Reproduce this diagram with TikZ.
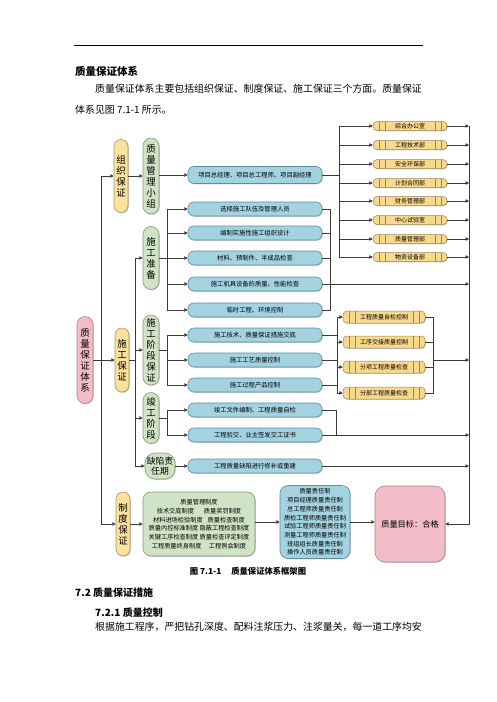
\documentclass[tikz,border=0pt]{standalone}
\usepackage{fontspec}
\setmainfont{Noto Sans CJK SC}
\usepackage{tikz}
\usetikzlibrary{arrows.meta,positioning,shadows}
\definecolor{Line}{HTML}{3A3A3A}
\definecolor{PinkFill}{HTML}{F3BCC9}
\definecolor{PinkEdge}{HTML}{A8848E}
\definecolor{YellowFill}{HTML}{FAE19E}
\definecolor{YellowEdge}{HTML}{A9955E}
\definecolor{GreenFill}{HTML}{D0E4C5}
\definecolor{GreenEdge}{HTML}{85977C}
\definecolor{BlueFill}{HTML}{A3D3E1}
\definecolor{BlueEdge}{HTML}{5F8C9B}
\definecolor{OrangeFill}{HTML}{F8D98C}
\definecolor{OrangeEdge}{HTML}{9C8452}
\tikzset{
  boxshadow/.style={
    drop shadow={shadow xshift=0.8pt,shadow yshift=-0.8pt,fill=black!45,opacity=0.45}
  },
  vlabel/.style={
    line width=0.6pt,
    rounded corners=7pt,
    inner sep=0pt,
    minimum width=14pt,
    align=center,
    font=\fontsize{9.5}{11}\selectfont,
    boxshadow
  },
  pinklabel/.style={vlabel, fill=PinkFill, draw=PinkEdge, minimum width=16pt, rounded corners=8pt},
  orglabel/.style={vlabel, fill=YellowFill, draw=YellowEdge},
  phaselabel/.style={vlabel, fill=GreenFill, draw=GreenEdge, minimum width=16pt, rounded corners=8pt},
  taskbox/.style={
    fill=BlueFill,
    draw=BlueEdge,
    line width=0.6pt,
    rounded corners=6pt,
    minimum width=134pt,
    minimum height=14pt,
    inner sep=0pt,
    font=\fontsize{6.3}{7}\selectfont,
    boxshadow
  },
  cellbox/.style={
    fill=OrangeFill,
    draw=OrangeEdge,
    line width=0.5pt,
    rounded corners=4pt,
    inner sep=0pt,
    font=\fontsize{6}{7}\selectfont,
    boxshadow,
    path picture={
      \foreach \d in {6pt,12pt}{
        \draw[OrangeEdge, line width=0.35pt]
          ([xshift=\d]path picture bounding box.north west) -- ([xshift=\d]path picture bounding box.south west);
        \draw[OrangeEdge, line width=0.35pt]
          ([xshift=-\d]path picture bounding box.north east) -- ([xshift=-\d]path picture bounding box.south east);
      }
    }
  },
  deptbox/.style={cellbox, minimum width=74pt, minimum height=9pt},
  checkbox/.style={cellbox, minimum width=82pt, minimum height=12pt},
  bigbox/.style={
    line width=0.6pt,
    rounded corners=8pt,
    inner sep=0pt,
    align=center,
    boxshadow
  },
  link/.style={line width=0.7pt, draw=Line},
  flowarrow/.style={
    -{Triangle[length=3.4pt,width=3.4pt]},
    line width=0.7pt,
    draw=Line
  },
  bodytext/.style={anchor=west, inner sep=0pt, font=\fontsize{9.9}{12}\selectfont}
}
\begin{document}
\begin{tikzpicture}[x=1pt,y=-1pt]
\useasboundingbox (0,0) rectangle (496,702);
% page text above
\draw[line width=0.8pt] (74,45) -- (423,45);
\node[bodytext, font=\fontsize{10.5}{12}\selectfont\bfseries] (title) at (75,71) {质量保证体系};
\node[bodytext] (para1) at (95,89) {质量保证体系主要包括组织保证、制度保证、施工保证三个方面。质量保证};
\node[bodytext] (para2) at (75,110) {体系见图 7.1-1 所示。};

% left column
\node[pinklabel, minimum height=87pt] (system) at (85,360) {质\\量\\保\\证\\体\\系};
\node[orglabel, minimum height=73pt] (org) at (121,176) {组\\织\\保\\证};
\node[orglabel, minimum height=64pt] (cons) at (122,360) {施\\工\\保\\证};
\node[orglabel, minimum height=64pt] (rule) at (123,524) {制\\度\\保\\证};

% phases
\node[phaselabel, minimum height=76pt] (team) at (151,176) {质\\量\\管\\理\\小\\组};
\node[phaselabel, minimum height=63pt] (prep) at (151,258) {施\\工\\准\\备};
\node[phaselabel, minimum height=70pt] (stage) at (151,350) {施\\工\\阶\\段\\保\\证};
\node[phaselabel, minimum height=51pt] (finish) at (151,418) {竣\\工\\阶\\段};
\node[phaselabel, minimum width=30pt, minimum height=26pt, rounded corners=10pt,
      font=\fontsize{8.8}{10.5}\selectfont] (defect) at (160,466) {缺陷责\\任期};

% task boxes
\node[taskbox, minimum height=17pt] (lead) at (255,175) {项目总经理、项目总工程师、项目副经理};
\node[taskbox] (prep1) at (255,209) {选择施工队伍及管理人员};
\node[taskbox] (prep2) at (255,233) {编制实施性施工组织设计};
\node[taskbox] (prep3) at (255,258) {材料、预制件、半成品检查};
\node[taskbox] (prep4) at (255,284) {施工机具设备的质量、性能检查};
\node[taskbox] (prep5) at (255,310) {临时工程、环境控制};
\node[taskbox] (stage1) at (255,335) {施工技术、质量保证措施交底};
\node[taskbox] (stage2) at (255,360) {施工工艺质量控制};
\node[taskbox] (stage3) at (255,385) {施工过程产品控制};
\node[taskbox] (fin1) at (255,410) {竣工文件编制、工程质量自检};
\node[taskbox] (fin2) at (255,435) {工程验交、业主签发交工证书};
\node[taskbox] (repair) at (255,466) {工程质量缺陷进行修补或重建};

% departments
\node[deptbox] (dept1) at (410,126) {综合办公室};
\node[deptbox] (dept2) at (410,145) {工程技术部};
\node[deptbox] (dept3) at (410,164) {安全环保部};
\node[deptbox] (dept4) at (410,183) {计划合同部};
\node[deptbox] (dept5) at (410,201) {财务管理部};
\node[deptbox] (dept6) at (410,220) {中心试验室};
\node[deptbox] (dept7) at (410,239) {质量管理部};
\node[deptbox] (dept8) at (410,257) {物资设备部};

% inspections
\node[checkbox] (check1) at (384,317) {工程质量自检控制};
\node[checkbox] (check2) at (384,342) {工序交接质量控制};
\node[checkbox] (check3) at (384,367) {分项工程质量检查};
\node[checkbox] (check4) at (384,393) {分部工程质量检查};

% bottom row
\node[bigbox, fill=GreenFill, draw=GreenEdge, minimum width=112pt, minimum height=64pt,
      font=\fontsize{6.2}{8.7}\selectfont] (rules) at (199,524)
  {质量管理制度\\技术交底制度\hspace{1.6em}质量奖罚制度\\材料进场检验制度\hspace{0.8em}质量检查制度\\
   质量内控标准制度 隐蔽工程检查制度\\关键工序检查制度 质量检查评定制度\\工程质量终身制度\hspace{1.2em}工程例会制度};
\node[bigbox, fill=BlueFill, draw=BlueEdge, minimum width=70pt, minimum height=73pt,
      font=\fontsize{6.2}{8.7}\selectfont] (duty) at (315,522)
  {质量责任制\\项目经理质量责任制\\总工程师质量责任制\\质检工程师质量责任制\\试验工程师质量责任制\\
   测量工程师质量责任制\\班组组长质量责任制\\操作人员质量责任制};
\node[bigbox, fill=PinkFill, draw=PinkEdge, minimum width=70pt, minimum height=76pt, rounded corners=10pt,
      font=\fontsize{8.2}{10}\selectfont] (goal) at (410,524) {质量目标：合格};

% trunk
\coordinate (trunk) at (101,360);
\coordinate (consbus) at (135,360);
\coordinate (bus) at (469,126);
\draw[flowarrow] (system) -- (cons);
\draw[flowarrow] (trunk) |- (org);
\draw[flowarrow] (trunk) |- (rule);
\draw[flowarrow] (org) -- (team);
\draw[flowarrow] (team.east |- lead) -- (lead);

% departments branch
\draw[link] (lead.east) -- ++(17,0) coordinate (deptbus);
\draw[flowarrow] (deptbus) |- (dept1.west);
\draw[flowarrow] (deptbus) |- (dept2.west);
\draw[flowarrow] (deptbus) |- (dept3.west);
\draw[flowarrow] (deptbus) |- (dept4.west);
\draw[flowarrow] (deptbus) |- (dept5.west);
\draw[flowarrow] (deptbus) |- (dept6.west);
\draw[flowarrow] (deptbus) |- (dept7.west);
\draw[flowarrow] (deptbus) |- (dept8.west);
\draw[flowarrow] (dept1.east) -- (dept1.east -| bus);
\draw[flowarrow] (dept2.east) -- (dept2.east -| bus);
\draw[flowarrow] (dept3.east) -- (dept3.east -| bus);
\draw[flowarrow] (dept4.east) -- (dept4.east -| bus);
\draw[flowarrow] (dept5.east) -- (dept5.east -| bus);
\draw[flowarrow] (dept6.east) -- (dept6.east -| bus);
\draw[flowarrow] (dept7.east) -- (dept7.east -| bus);
\draw[flowarrow] (dept8.east) -- (dept8.east -| bus);

% construction branch
\draw[link] (cons.east) -- (consbus);
\draw[flowarrow] (consbus) |- (prep.west);
\draw[flowarrow] (consbus) |- (stage.west);
\draw[flowarrow] (consbus) |- (finish.west);
\draw[flowarrow] (consbus) |- (defect.west);

% preparation
\draw[link] (prep.east) -- ++(8,0) coordinate (prepbus);
\draw[flowarrow] (prepbus) |- (prep1.west);
\draw[flowarrow] (prepbus) |- (prep2.west);
\draw[flowarrow] (prepbus) |- (prep3.west);
\draw[flowarrow] (prepbus) |- (prep4.west);
\draw[flowarrow] (prepbus) |- (prep5.west);
\draw[link] (prep1.east) -- ++(8,0) coordinate (prepout) |- (prep5.east);
\draw[link] (prep2.east) -- (prep2.east -| prepout);
\draw[link] (prep3.east) -- (prep3.east -| prepout);
\draw[flowarrow] (prep4.east) -- (prep4.east -| bus);

% construction stage
\draw[link] (stage.east) -- ++(8,0) coordinate (stagebus);
\draw[flowarrow] (stagebus) |- (stage1.west);
\draw[flowarrow] (stagebus) |- (stage2.west);
\draw[flowarrow] (stagebus) |- (stage3.west);
\coordinate (checkbus) at (337,360);
\draw[link] (stage1.east) -- (stage1.east -| checkbus);
\draw[link] (stage2.east) -- (stage2.east -| checkbus);
\draw[link] (stage3.east) -- (stage3.east -| checkbus);
\draw[link] (checkbus |- check1.west) -- (checkbus |- check4.west);
\draw[flowarrow] (checkbus |- check1.west) -- (check1.west);
\draw[flowarrow] (checkbus |- check2.west) -- (check2.west);
\draw[flowarrow] (checkbus |- check3.west) -- (check3.west);
\draw[flowarrow] (checkbus |- check4.west) -- (check4.west);
\draw[link] (check1.east) -- ++(8,0) coordinate (checkout) |- (check4.east);
\draw[link] (check2.east) -- (check2.east -| checkout);
\draw[link] (check3.east) -- (check3.east -| checkout);
\draw[flowarrow] (checkout |- stage2) -- (stage2 -| bus);

% completion
\draw[link] (finish.east) -- ++(8,0) coordinate (finbus);
\draw[flowarrow] (finbus) |- (fin1.west);
\draw[flowarrow] (finbus) |- (fin2.west);
\draw[link] (fin1.east) -- ++(14,0) |- (fin2.east);
\draw[flowarrow] (fin2.east) -- (fin2.east -| bus);

% defect period
\draw[flowarrow] (defect) -- (repair);
\draw[flowarrow] (repair.east) -- (repair.east -| bus);

% bottom row
\draw[flowarrow] (rule) -- (rules);
\draw[flowarrow] (rules.east |- duty) -- (duty);
\draw[flowarrow] (duty) -- (goal.west |- duty);
\draw[flowarrow] (bus) |- (goal.east);

% page text below
\node[anchor=center, inner sep=0pt, font=\fontsize{8.3}{10}\selectfont\bfseries] (caption) at (248,571)
  {图 7.1-1\hspace{1.2em}质量保证体系框架图};
\node[bodytext, font=\fontsize{10}{12}\selectfont\bfseries] (sec) at (75,593) {7.2 质量保证措施};
\node[bodytext, font=\fontsize{10}{12}\selectfont\bfseries] (subsec) at (95,613) {7.2.1 质量控制};
\node[bodytext] (para3) at (95,627) {根据施工程序，严把钻孔深度、配料注浆压力、注浆量关，每一道工序均安};
\end{tikzpicture}
\end{document}
